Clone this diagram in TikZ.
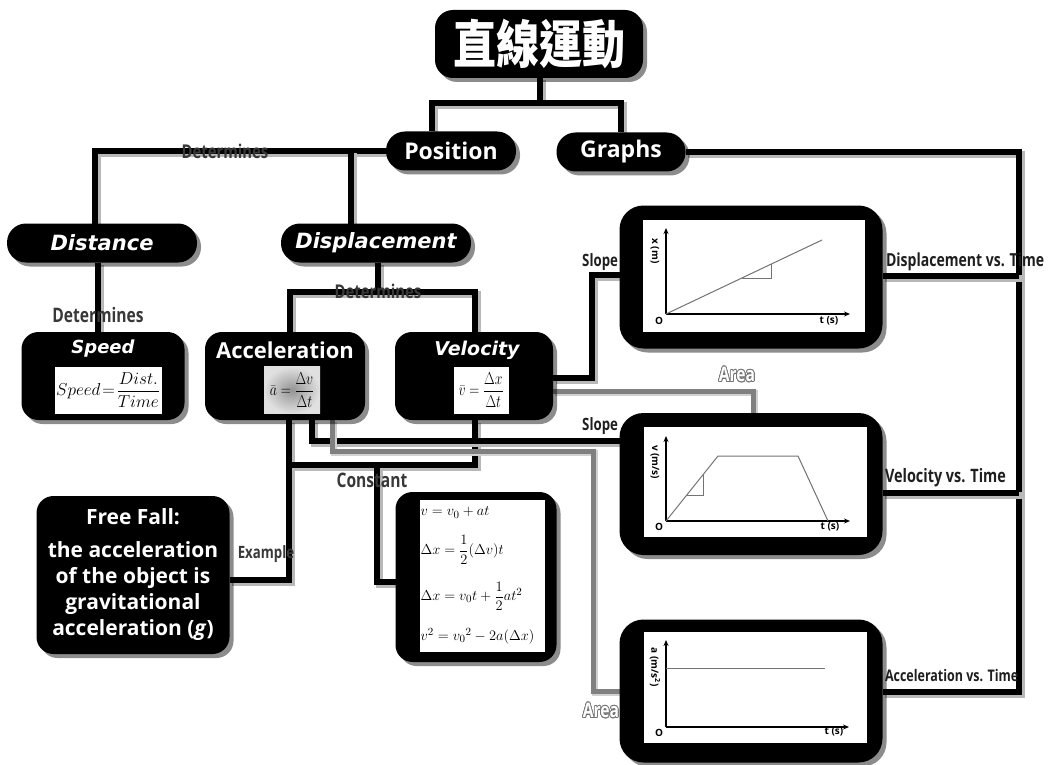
\documentclass[tikz,border=0pt]{standalone}
\usepackage{amsmath}
\usepackage{graphicx}
\usepackage{fontspec}
\usepackage{contour}
\setmainfont{Open Sans}
\newfontfamily\dvs{DejaVu Sans}
\newfontfamily\cond[FakeStretch=0.78]{Open Sans}
\newfontfamily\cjk{Noto Sans CJK TC}
\usetikzlibrary{shadows,calc,arrows.meta}
\pgfdeclarelayer{bg}
\pgfsetlayers{bg,main}
\contourlength{0.8pt}
\begin{document}
\begin{tikzpicture}[x=1pt,y=-1pt,
  every node/.style={inner sep=0pt,outer sep=0pt},
  shadowed/.style={drop shadow={shadow xshift=4pt,shadow yshift=-4pt,opacity=0.45,fill=black}},
  pill/.style={shadowed,fill=black,rounded corners=19pt,minimum height=39pt,text=white},
  bigbox/.style={shadowed,fill=black,rounded corners=17pt},
  conn/.style={line width=5.5pt,black,preaction={draw=black!28,line width=6.5pt,transform canvas={shift={(2.5pt,-2.5pt)}}}},
  gconn/.style={line width=5pt,color=black!50,preaction={draw=black!18,line width=6pt,transform canvas={shift={(2pt,-2pt)}}}},
  lbl/.style={font=\cond\bfseries\fontsize{19}{19}\selectfont,text=black!78},
  dlbl/.style={font=\cond\bfseries\fontsize{17}{17}\selectfont,text=black!88},
  arealbl/.style={font=\cond\bfseries\fontsize{20}{20}\selectfont,text=white},
  ax/.style={line width=1.3pt,-{Stealth[length=6pt,width=5pt]}},
  curve/.style={line width=1pt,color=black!55},
  plbl/.style={font=\bfseries\fontsize{10}{10}\selectfont},
  formula/.style={minimum height=47pt}
]
\useasboundingbox (0,0) rectangle (1058,765);

% ---------- main nodes ----------
\node[bigbox,rounded corners=18pt,minimum width=208pt,minimum height=68pt,text=white,
      font=\cjk\bfseries\fontsize{43}{43}\selectfont] (title) at (539,44) {\scalebox{1}[1.2]{直線運動}};
\node[pill,minimum width=130pt,font=\bfseries\fontsize{23}{23}\selectfont] (pos) at (451,151) {Position};
\node[pill,minimum width=129pt,font=\bfseries\fontsize{23}{23}\selectfont] (gra) at (621,152) {Graphs};
\node[pill,minimum width=190pt,font=\dvs\bfseries\itshape\fontsize{21}{21}\selectfont] (dist) at (102,243) {Distance};
\node[pill,minimum width=190pt,font=\dvs\bfseries\itshape\fontsize{21}{21}\selectfont] (disp) at (376,243) {Displacement};

% Speed
\node[bigbox,minimum width=163pt,minimum height=88pt] (speed) at (103,376) {};
\node[text=white,font=\dvs\bfseries\itshape\fontsize{18}{18}\selectfont] (speedt) at (103,349) {Speed};
\node[formula,fill=white,minimum width=107pt,font=\fontsize{17}{17}\selectfont] (speedf) at (108,390) {$Speed\!=\!\dfrac{Dist.}{Time}$};

% Acceleration
\node[bigbox,minimum width=160pt,minimum height=88pt] (acc) at (285,376) {};
\node[text=white,font=\bfseries\fontsize{22}{22}\selectfont] (acct) at (285,350) {Acceleration};
\node[formula,shading=radial,inner color=black!42,outer color=black!12,minimum width=56pt,font=\fontsize{18}{18}\selectfont] (accf) at (292,390) {\scalebox{0.8}[1]{$\bar a=\dfrac{\Delta v}{\Delta t}$}};

% Velocity
\node[bigbox,minimum width=158pt,minimum height=88pt] (vel) at (474,376) {};
\node[text=white,font=\dvs\bfseries\itshape\fontsize{19}{19}\selectfont] (velt) at (477,350) {Velocity};
\node[formula,fill=white,minimum width=55pt,font=\fontsize{18}{18}\selectfont] (velf) at (481,390) {\scalebox{0.8}[1]{$\bar v=\dfrac{\Delta x}{\Delta t}$}};

% Free fall
\node[bigbox,minimum width=193pt,minimum height=158pt,text=white,align=center,
      font=\bfseries\fontsize{21}{26}\selectfont] (ff) at (133,575)
  {Free Fall:\\[7pt] the acceleration\\ of the object is\\ gravitational\\ acceleration (\textit{g})};

% Equations
\node[bigbox,minimum width=161pt,minimum height=170pt] (eq) at (476,577) {};
\node[fill=white,minimum width=125pt,minimum height=152pt,font=\fontsize{15.5}{15.5}\selectfont] (eqw) at (482,576)
  {\parbox[c][146pt][s]{123pt}{\vspace*{4pt}
   \mbox{$v=v_0+at$}\par\vfill
   \mbox{$\Delta x=\dfrac{1}{2}(\Delta v)t$}\par\vfill
   \mbox{$\Delta x=v_0t+\dfrac{1}{2}at^2$}\par\vfill
   \mbox{$v^2=v_0{}^2-2a(\Delta x)$}\par\vspace*{5pt}}};

% Graph boxes
\node[bigbox,rounded corners=24pt,minimum width=263pt,minimum height=143pt] (g1) at (751,277) {};
\node[fill=white,minimum width=222pt,minimum height=112pt] (g1w) at (754,276) {};
\node[bigbox,rounded corners=24pt,minimum width=263pt,minimum height=142pt] (g2) at (751,484) {};
\node[fill=white,minimum width=223pt,minimum height=110pt] (g2w) at (755.5,482) {};
\node[bigbox,rounded corners=24pt,minimum width=263pt,minimum height=143pt] (g3) at (751,691) {};
\node[fill=white,minimum width=223pt,minimum height=111pt] (g3w) at (755.5,687.5) {};

% plot 1: x-t
\begin{scope}[shift={(666,314)}]
  \draw[ax] (0,0) -- (0,-86);
  \draw[ax] (0,0) -- (184,0);
  \draw[curve] (0,0) -- (156,-74);
  \draw[curve] (76,-36) -- (105,-36) -- (105,-49.8);
  \node[plbl] (g1o) at (-7,7) {O};
  \node[plbl] (g1t) at (163,7) {t (s)};
  \node[plbl,rotate=-90] (g1y) at (-11,-63) {x (m)};
\end{scope}
% plot 2: v-t
\begin{scope}[shift={(666,521)}]
  \draw[ax] (0,0) -- (0,-85);
  \draw[ax] (0,0) -- (184,0);
  \draw[curve] (0,0) -- (52,-65) -- (132,-65) -- (162,0);
  \draw[curve] (21,-26) -- (37,-26) -- (37,-46);
  \node[plbl] (g2o) at (-7,6) {O};
  \node[plbl] (g2t) at (164,6) {t (s)};
  \node[plbl,rotate=-90] (g2y) at (-11,-59) {v (m/s)};
\end{scope}
% plot 3: a-t
\begin{scope}[shift={(666,727)}]
  \draw[ax] (0,0) -- (0,-87);
  \draw[ax] (0,0) -- (183,0);
  \draw[curve] (0,-59) -- (159,-59);
  \node[plbl] (g3o) at (-7,6) {O};
  \node[plbl] (g3t) at (168,5) {t (s)};
  \node[plbl,rotate=-90] (g3y) at (-11,-60) {a (m/s\textsuperscript{2})};
\end{scope}

% ---------- connector labels ----------
\node[lbl] (l1) at (225,151) {Determines};
\node[lbl,font=\cond\bfseries\fontsize{20}{20}\selectfont] (l2) at (98,315) {Determines};
\node[lbl] (l3) at (378,291) {Determines};
\node[lbl,font=\cond\bfseries\fontsize{20}{20}\selectfont] (l4) at (372,480) {Constant};
\node[lbl,font=\cond\bfseries\fontsize{17}{17}\selectfont] (l5) at (266,554) {Example};
\node[dlbl,anchor=east] (l6) at (618,262) {Slope};
\node[dlbl,anchor=east] (l7) at (618,426) {Slope};
\node[arealbl] (l8) at (737,375) {\contour{black!55}{Area}};
\node[arealbl,anchor=east] (l9) at (619,711) {\contour{black!55}{Area}};
\node[dlbl,anchor=west,font=\cond\bfseries\fontsize{18}{18}\selectfont] (l10) at (886,262) {Displacement vs. Time};
\node[dlbl,anchor=west,font=\cond\bfseries\fontsize{18.5}{18.5}\selectfont] (l11) at (885,478) {Velocity vs. Time};
\node[dlbl,anchor=west,font=\cond\bfseries\fontsize{16}{16}\selectfont] (l12) at (885,676) {Acceleration vs. Time};

% ---------- connectors ----------
\begin{pgfonlayer}{bg}
\coordinate (tA) at (540,103);
\coordinate (tL) at (432,103);
\coordinate (tR) at (621,103);
\draw[conn] (title.south -| tA) -- (tA);
\draw[conn] (pos.north -| tL) -- (tL) -- (tR) -- (gra.north -| tR);
\coordinate (pL) at (95,151);
\coordinate (pM) at (351,151);
\draw[conn] (pos.west) -- (pos.west -| pL) -- (dist.north -| pL);
\draw[conn] (pM) -- (disp.north -| pM);
\coordinate (dS) at (98,300);
\draw[conn] (dist.south -| dS) -- (speed.north -| dS);
\coordinate (dj) at (378,292);
\coordinate (dl) at (290,292);
\coordinate (dr) at (475,292);
\draw[conn] (disp.south -| dj) -- (dj);
\draw[conn] (acc.north -| dl) -- (dl) -- (dr) -- (vel.north -| dr);
\coordinate (ab) at (289,580);
\draw[conn] (acc.south -| ab) -- (ab) -- (ff.east |- ab);
\coordinate (cj) at (475,465);
\coordinate (cl) at (289,465);
\draw[conn] (vel.south -| cj) -- (cj) -- (cl);
\coordinate (ce) at (377,465);
\coordinate (ce2) at (377,582);
\draw[conn] (ce) -- (ce2) -- (eq.west |- ce2);
\coordinate (as) at (312,441);
\draw[conn] (acc.south -| as) -- (as) -- (g2.west |- as);
\coordinate (aa) at (332,451);
\coordinate (aa2) at (593,451);
\coordinate (aa3) at (593,691);
\draw[gconn] (acc.south -| aa) -- (aa) -- (aa2) -- (aa3) -- (g3.west |- aa3);
\coordinate (vs) at (592,378);
\coordinate (vs2) at (592,275);
\draw[conn] (vel.east |- vs) -- (vs) -- (vs2) -- (g1.west |- vs2);
\coordinate (va) at (753,391);
\draw[gconn] (vel.east |- va) -- (va) -- (g2.north -| va);
\coordinate (gr) at (1019,152);
\coordinate (gr1) at (1019,276);
\coordinate (gr2) at (1019,493);
\coordinate (gr3) at (1019,692);
\draw[conn] (gra.east) -- (gr) -- (gr3) -- (g3.east |- gr3);
\draw[conn] (gr1) -- (g1.east |- gr1);
\draw[conn] (gr2) -- (g2.east |- gr2);
\end{pgfonlayer}
\end{tikzpicture}
\end{document}
